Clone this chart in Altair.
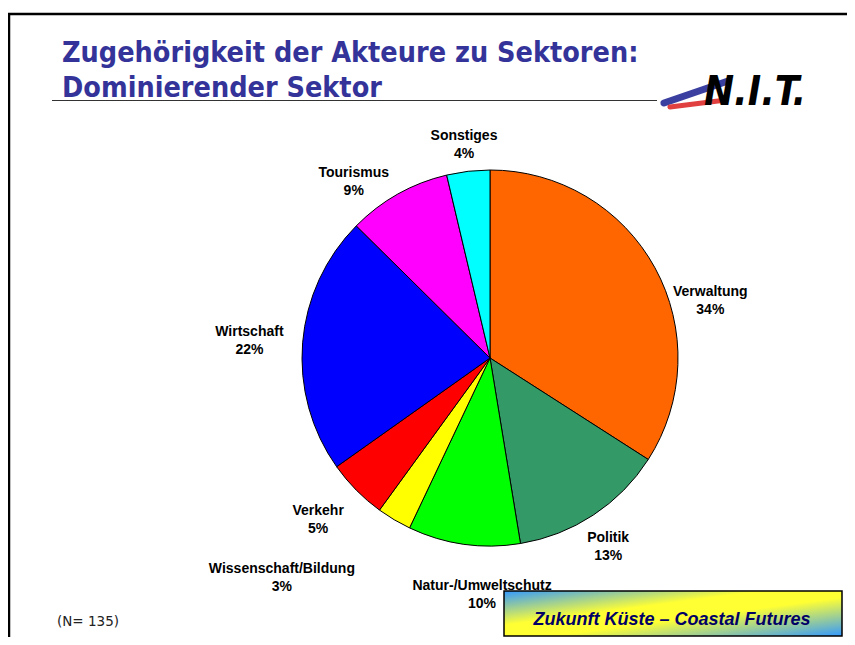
import altair as alt
import pandas as pd

# ---- data ----
sectors = ["Verwaltung", "Politik", "Natur-/Umweltschutz", "Wissenschaft/Bildung",
           "Verkehr", "Wirtschaft", "Tourismus", "Sonstiges"]
counts = [46, 18, 13, 4, 7, 30, 12, 5]
pct_labels = ["34%", "13%", "10%", "3%", "5%", "22%", "9%", "4%"]
colors = ["#FF6600", "#339966", "#00FF00", "#FFFF00",
          "#FF0000", "#0000FF", "#FF00FF", "#00FFFF"]
title_lines = ["Zugehörigkeit der Akteure zu Sektoren:", "Dominierender Sektor"]
note_text = "(N= 135)"
banner_text = "Zukunft Küste – Coastal Futures"
logo_text = "N.I.T."

# ---- label layout (style: angular nudge in degrees, label radius in px) ----
LABEL_R = 230
label_shift_deg = {"Verwaltung": 12, "Natur-/Umweltschutz": -6, "Wissenschaft/Bildung": 14,
                   "Verkehr": 3, "Wirtschaft": 1.5, "Tourismus": -7}
label_radius = {"Wissenschaft/Bildung": 296, "Wirtschaft": 242, "Sonstiges": 224,
                "Politik": 215, "Natur-/Umweltschutz": 228}

total = sum(counts)
df = pd.DataFrame({
    "sector": sectors,
    "count": counts,
    "pct": pct_labels,
    "idx": list(range(len(sectors))),
})
df["label"] = df["sector"] + "\n" + df["pct"]
cum = df["count"].cumsum()
df["lpos"] = (cum - df["count"] / 2) + df["sector"].map(label_shift_deg).fillna(0) / 360 * total
df["lr"] = df["sector"].map(label_radius).fillna(LABEL_R)

W, H = 839, 629
CX, CY, R = 482, 350, 188

arcs = alt.Chart(df).mark_arc(radius=R, stroke="black", strokeWidth=1).encode(
    theta=alt.Theta("count:Q", stack=True),
    order=alt.Order("idx:Q", sort="ascending"),
    color=alt.Color("sector:N", scale=alt.Scale(domain=sectors, range=colors), legend=None),
    x=alt.value(CX),
    y=alt.value(CY),
)

labels = alt.Chart(df).mark_text(
    lineBreak="\n", font="Liberation Sans", fontWeight="bold", fontSize=14,
    lineHeight=18, color="black", align="center", baseline="middle"
).encode(
    theta=alt.Theta("lpos:Q", stack=False, scale=alt.Scale(domain=[0, total])),
    radius=alt.Radius("lr:Q", scale=None),
    text="label:N",
    x=alt.value(CX),
    y=alt.value(CY),
)


def one():
    return alt.Chart(alt.Data(values=[{"a": 1}]))


TITLE_FONT = "Liberation Sans Narrow, DejaVu Sans Condensed, Roboto, sans-serif"
title1 = one().mark_text(
    align="left", baseline="alphabetic", font=TITLE_FONT, fontSize=28.5,
    fontWeight="bold", color="#333399"
).encode(x=alt.value(54), y=alt.value(54), text=alt.value(title_lines[0]))
title2 = one().mark_text(
    align="left", baseline="alphabetic", font=TITLE_FONT, fontSize=28.5,
    fontWeight="bold", color="#333399"
).encode(x=alt.value(54), y=alt.value(89), text=alt.value(title_lines[1]))

underline = one().mark_rule(color="#333333", strokeWidth=1).encode(
    x=alt.value(44), x2=alt.value(649), y=alt.value(92.5))

border_top = one().mark_rule(color="black", strokeWidth=2.5).encode(
    x=alt.value(0), x2=alt.value(W), y=alt.value(6))
border_left = one().mark_rule(color="black", strokeWidth=2.5).encode(
    x=alt.value(1), y=alt.value(5), y2=alt.value(H))

swoosh_blue = one().mark_rule(color="#3a3fa0", strokeWidth=7, strokeCap="round").encode(
    x=alt.value(656), y=alt.value(95), x2=alt.value(720), y2=alt.value(73))
swoosh_red = one().mark_rule(color="#e04040", strokeWidth=5, strokeCap="round").encode(
    x=alt.value(662), y=alt.value(99), x2=alt.value(718), y2=alt.value(92))
logo = one().mark_text(
    align="left", baseline="alphabetic", font="DejaVu Sans Condensed, DejaVu Sans",
    fontSize=40, fontWeight="bold", fontStyle="italic", color="black"
).encode(x=alt.value(696), y=alt.value(97), text=alt.value(logo_text))

note = one().mark_text(
    align="left", baseline="alphabetic", font="DejaVu Sans", fontSize=13.5, color="#222222"
).encode(x=alt.value(49), y=alt.value(618), text=alt.value(note_text))

grad = alt.Gradient(
    gradient="linear",
    stops=[
        alt.GradientStop(color="#3399FF", offset=0),
        alt.GradientStop(color="#FFFF33", offset=0.38),
        alt.GradientStop(color="#FFFF33", offset=0.57),
        alt.GradientStop(color="#3399FF", offset=1),
    ],
    x1=0, y1=0, x2=1, y2=1,
)
banner_box = one().mark_rect(fill=grad, stroke="black", strokeWidth=1.5).encode(
    x=alt.value(496), x2=alt.value(834), y=alt.value(583), y2=alt.value(628))
banner = one().mark_text(
    align="center", baseline="alphabetic", font="Liberation Sans", fontSize=18,
    fontWeight="bold", fontStyle="italic", color="#000066"
).encode(x=alt.value(664), y=alt.value(617), text=alt.value(banner_text))

chart = alt.layer(
    border_top, border_left, title1, title2, underline,
    swoosh_blue, swoosh_red, logo,
    arcs, note, banner_box, banner, labels
).properties(
    width=W, height=H, padding=0, autosize=alt.AutoSizeParams(type="none")
).configure_view(stroke=None)

chart.save("out.html", embed_options={"renderer": "svg", "actions": False})
